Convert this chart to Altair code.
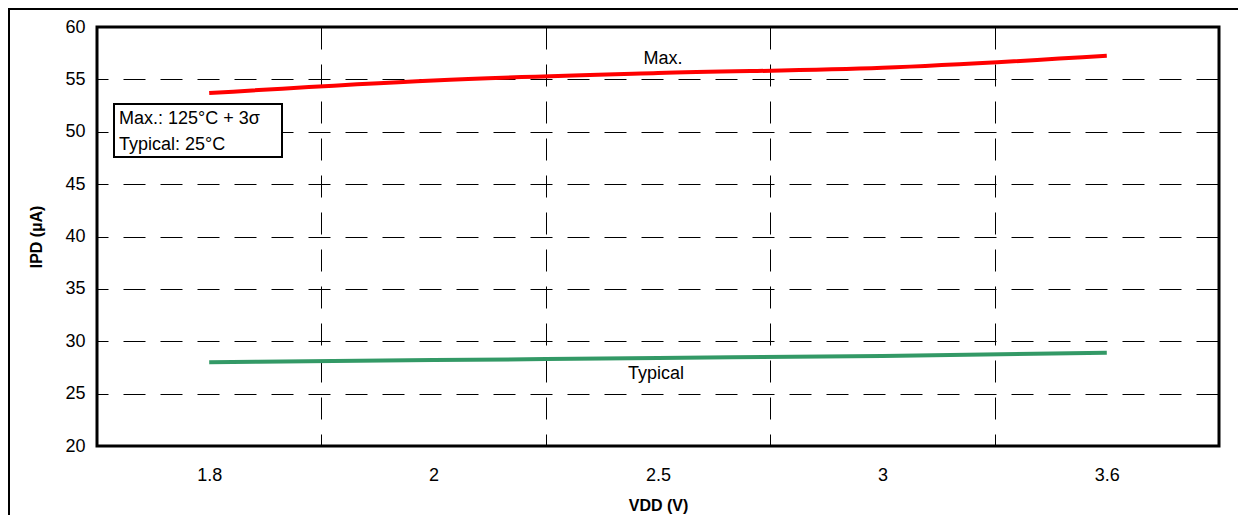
import altair as alt
import pandas as pd

# ---- data ----
vdd = ["1.8", "2", "2.5", "3", "3.6"]
ipd_max = [53.7, 54.9, 55.6, 56.1, 57.25]
ipd_typ = [28.0, 28.2, 28.4, 28.6, 28.9]
series = ["Max.", "Typical"]
colors = ["#ff0000", "#339966"]
y_ticks = [20, 25, 30, 35, 40, 45, 50, 55, 60]
note_lines = ["Max.: 125°C + 3σ", "Typical: 25°C"]

df = pd.DataFrame({
    "vdd": vdd * 2,
    "ipd": ipd_max + ipd_typ,
    "series": [series[0]] * len(vdd) + [series[1]] * len(vdd),
})

FONT = "Liberation Sans"

x_enc = alt.X(
    "vdd:O",
    sort=vdd,
    bandPosition=0.5,
    scale=alt.Scale(type="band", paddingInner=0, paddingOuter=0),
    axis=alt.Axis(
        title="VDD (V)", labelAngle=0, tickBand="extent",
        grid=True, gridDash=[22, 15], gridColor="black", gridWidth=1, gridOpacity=1,
        ticks=False, domain=False, labelFontSize=18, labelPadding=20,
        labelColor="black", labelFont=FONT,
        titleFontSize=16, titleFontWeight="bold", titlePadding=13,
        titleColor="black", titleFont=FONT,
    ),
)
y_enc = alt.Y(
    "ipd:Q",
    scale=alt.Scale(domain=[20, 60], nice=False, zero=False),
    axis=alt.Axis(
        values=y_ticks, title="IPD (µA)",
        grid=True, gridDash=[22, 15], gridDashOffset=11, gridColor="black",
        gridWidth=1, gridOpacity=1,
        ticks=False, tickSize=0, domain=False, labelFontSize=18, labelPadding=12,
        labelColor="black", labelFont=FONT,
        titleFontSize=16, titleFontWeight="bold", titlePadding=20,
        titleColor="black", titleFont=FONT,
    ),
)
color_enc = alt.Color("series:N", scale=alt.Scale(domain=series, range=colors), legend=None)

lines = alt.Chart(df).mark_line(strokeWidth=4, interpolate="monotone").encode(
    x=x_enc, y=y_enc, color=color_enc, detail="series:N"
)

lbl_max = alt.Chart(df).transform_filter(
    (alt.datum.series == series[0]) & (alt.datum.vdd == "2.5")
).mark_text(dy=-14, dx=5, fontSize=18, font=FONT, color="black", baseline="middle").encode(
    x=x_enc, y=y_enc, text="series:N"
)
lbl_typ = alt.Chart(df).transform_filter(
    (alt.datum.series == series[1]) & (alt.datum.vdd == "2.5")
).mark_text(dy=16, dx=-2, fontSize=18, font=FONT, color="black", baseline="middle").encode(
    x=x_enc, y=y_enc, text="series:N"
)

one = pd.DataFrame({"k": [0]})
note_box = alt.Chart(one).mark_rect(fill="white", stroke="black", strokeWidth=2).encode(
    x=alt.value(17), x2=alt.value(185), y=alt.value(77), y2=alt.value(130)
)
note1 = alt.Chart(one).mark_text(
    text=note_lines[0], align="left", baseline="alphabetic", fontSize=18, font=FONT, color="black"
).encode(x=alt.value(22), y=alt.value(97))
note2 = alt.Chart(one).mark_text(
    text=note_lines[1], align="left", baseline="alphabetic", fontSize=18, font=FONT, color="black"
).encode(x=alt.value(22), y=alt.value(123))

outer = alt.Chart(one).mark_rect(fill="transparent", stroke="black", strokeWidth=2).encode(
    x=alt.value(-88), x2=alt.value(1180), y=alt.value(-18), y2=alt.value(520)
)

chart = alt.layer(outer, lines, lbl_max, lbl_typ, note_box, note1, note2).properties(
    width=1122, height=419,
    autosize=alt.AutoSizeParams(type="none"),
    padding={"left": 89, "top": 19, "right": 19, "bottom": 69},
).configure(background="white").configure_view(stroke="black", strokeWidth=3)

chart.save("out.html", embed_options={"renderer": "svg", "actions": False})
